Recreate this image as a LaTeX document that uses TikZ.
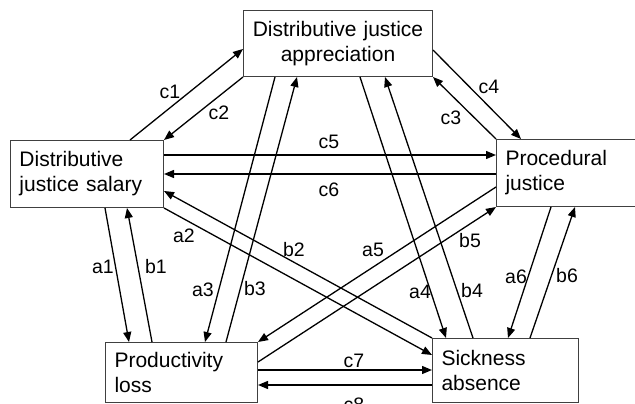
\documentclass[tikz,border=0pt]{standalone}
\usepackage{fontspec}
\setmainfont{Liberation Sans}
\usetikzlibrary{arrows.meta}
\begin{document}
\begin{tikzpicture}[x=1pt,y=-1pt,
  box/.style={draw=black!75, line width=1pt, anchor=north west, inner xsep=9pt, inner ysep=0pt,
    font=\fontsize{21}{25}\selectfont, align=left},
  conn/.style={line width=1.3pt, -{Triangle[length=10pt,width=8pt]}},
  lab/.style={font=\fontsize{19.5}{22}\selectfont, inner sep=0pt}]
\useasboundingbox (0,0) rectangle (635,404);
\clip (0,0) rectangle (635,404);
% boxes
\node[box, minimum width=189pt, minimum height=66pt, text width=171pt, align=center] (dja) at (243,10) {Distributive justice\\appreciation};
\node[box, minimum width=153pt, minimum height=67pt, text width=135pt] (djs) at (10,140) {Distributive\\justice salary};
\node[box, minimum width=150pt, minimum height=67pt, text width=132pt] (pj) at (496,139) {Procedural\\justice};
\node[box, minimum width=152pt, minimum height=60pt, text width=134pt] (pl) at (105,342) {Productivity\\loss};
\node[box, minimum width=146pt, minimum height=64pt, text width=128pt] (sa) at (432,338) {Sickness\\absence};
% connectors
\draw[conn] (130,0 |- djs.north) -- (dja.west |- 0,49);
\draw[conn] (dja.south west) -- (djs.north east);
\draw[conn] (pj.north west) -- (dja.south east);
\draw[conn] (dja.east |- 0,50) -- (521,0 |- pj.north);
\draw[conn] (djs.east |- 0,155) -- (pj.west |- 0,155);
\draw[conn] (pj.west |- 0,174) -- (djs.east |- 0,174);
\draw[conn] (105,0 |- djs.south) -- (129,0 |- pl.north);
\draw[conn] (152,0 |- pl.north) -- (127,0 |- djs.south);
\draw[conn] (djs.south east) -- (sa.west |- 0,355);
\draw[conn] (sa.north west) -- (djs.east |- 0,191);
\draw[conn] (275,0 |- dja.south) -- (205,0 |- pl.north);
\draw[conn] (226,0 |- pl.north) -- (297,0 |- dja.south);
\draw[conn] (360,0 |- dja.south) -- (446,0 |- sa.north);
\draw[conn] (473,0 |- sa.north) -- (385,0 |- dja.south);
\draw[conn] (pj.west |- 0,187) -- (pl.north east);
\draw[conn] (pl.east |- 0,362) -- (pj.south west);
\draw[conn] (551,0 |- pj.south) -- (508,0 |- sa.north);
\draw[conn] (530,0 |- sa.north) -- (575,0 |- pj.south);
\draw[conn] (pl.east |- 0,370) -- (sa.west |- 0,370);
\draw[conn] (sa.west |- 0,385) -- (pl.east |- 0,385);
% labels
\node[lab] (lc1) at (170,92) {c1};
\node[lab] (lc2) at (219,113) {c2};
\node[lab] (lc3) at (451,118) {c3};
\node[lab] (lc4) at (489,87) {c4};
\node[lab] (lc5) at (329,142) {c5};
\node[lab] (lc6) at (329,190) {c6};
\node[lab] (la1) at (103,267) {a1};
\node[lab] (lb1) at (156,267) {b1};
\node[lab] (la2) at (184,236) {a2};
\node[lab] (lb2) at (294,250) {b2};
\node[lab] (la3) at (203,290) {a3};
\node[lab] (lb3) at (255,289) {b3};
\node[lab] (la4) at (420,292) {a4};
\node[lab] (lb4) at (472,291) {b4};
\node[lab] (la5) at (373,250) {a5};
\node[lab] (lb5) at (470,241) {b5};
\node[lab] (la6) at (516,277) {a6};
\node[lab] (lb6) at (567,276) {b6};
\node[lab] (lc7) at (354,361) {c7};
\node[lab] (lc8) at (354,405) {c8};
\end{tikzpicture}
\end{document}
